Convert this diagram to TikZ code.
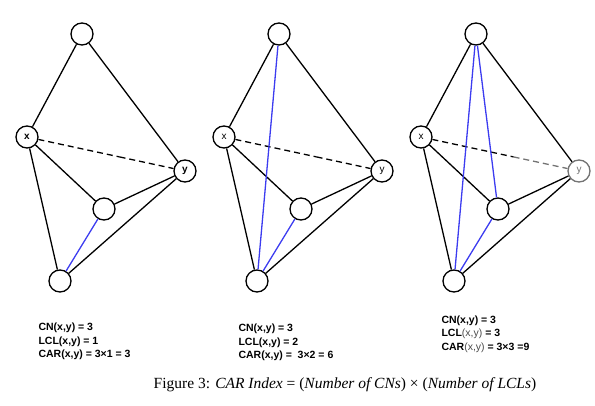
\documentclass[tikz,border=0pt]{standalone}
\usepackage{fontspec}
\setmainfont{Liberation Serif}
\setsansfont{Liberation Sans}
\usepackage{xcolor}
\usepackage{tikz}
\usetikzlibrary{positioning}

\definecolor{cnblue}{RGB}{60,60,240}

\begin{document}
\begin{tikzpicture}[x=1pt, y=-1pt,
        vertex/.style={circle, draw, fill=white, line width=1.3pt, minimum size=22pt, inner sep=0pt, font=\sffamily\fontsize{10}{10}\selectfont},
        edge/.style={line width=1.3pt},
        dashline/.style={line width=1.3pt, dash pattern=on 6pt off 4pt},
        cnedge/.style={line width=1.3pt, cnblue},
        info/.style={anchor=west, align=left, font=\sffamily\bfseries\fontsize{10.5}{13.5}\selectfont}]

        \useasboundingbox (0,0) rectangle (595,406);

        % Three graphs, side by side
        \foreach \g/\ycol/\lw in {0/black/b, 1/black/m, 2/black!55/m} {
            \begin{scope}[xshift=\g*197]
                \node[vertex] (t\g) at (82,34) {};
                \node[vertex] (x\g) at (27,137) {\fontseries{\lw}\selectfont x};
                \node[vertex, draw=\ycol, text=\ycol] (y\g) at (185,171) {\fontseries{\lw}\selectfont y};
                \node[vertex] (m\g) at (104,209) {};
                \node[vertex] (b\g) at (60,281) {};
            \end{scope}

            % Edges
            \draw[edge] (t\g) -- (x\g) (t\g) -- (y\g) (x\g) -- (m\g) (x\g) -- (b\g) (m\g) -- (y\g) (b\g) -- (y\g);

            % Link to predict
            \path (x\g) -- (y\g) coordinate[pos=0.6] (f\g);
            \draw[dashline] (x\g) -- (f\g);
            \draw[dashline, \ycol] (f\g) -- (y\g);

            % Local community links
            \draw[cnedge] (m\g) -- (b\g);
        }

        \draw[cnedge] (t1) -- (b1);
        \draw[cnedge] (t2) -- (b2) (t2) -- (m2);

        % Scores
        \node[info] (info0) at (35,341.5) {CN(x,y) = 3\\LCL(x,y) = 1\\CAR(x,y) = 3×1 = 3};
        \node[info] (info1) at (235,342.5) {CN(x,y) = 3\\LCL(x,y) = 2\\CAR(x,y) =\ \ 3×2 = 6};
        \node[info] (info2) at (438,334) {CN(x,y) = 3\\LCL{\mdseries\color{black!70}(x,y)} = 3\\CAR{\mdseries\color{black!70}(x,y)} = 3×3 =9};

        % Caption
        \node[font=\fontsize{15.5}{16}\selectfont] (caption) at (345,385) {Figure 3: \textit{CAR Index} = (\textit{Number of CNs}) × (\textit{Number of LCLs})};

    \end{tikzpicture}
\end{document}
